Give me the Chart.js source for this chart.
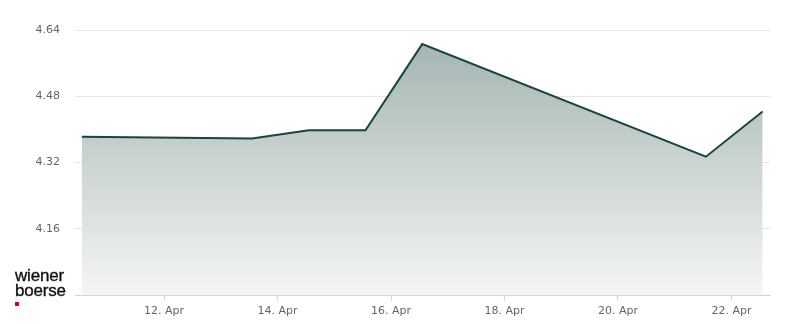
<!DOCTYPE html>
<html lang="de">
<head>
<meta charset="UTF-8">
<title>Kursverlauf</title>
<script src="https://cdn.jsdelivr.net/npm/chart.js"></script>
<style>
    html, body { margin: 0; padding: 0; background: #fff; }
    .wrap { position: relative; width: 800px; height: 324px; }
    .logo {
        position: absolute; left: 15px; top: 268px;
        font-family: 'Liberation Sans', Arial, sans-serif;
        font-size: 17px; line-height: 15px; color: #111; letter-spacing: -0.2px;
        -webkit-text-stroke: 0.35px #111;
    }
    .logo .dot { display: block; width: 4px; height: 4px; background: #d2001e; margin-top: 4px; }
</style>
</head>
<body>
<div class="wrap">
    <canvas id="priceChart" width="800" height="324"></canvas>
    <div class="logo">wiener<br>boerse<span class="dot"></span></div>
</div>
<script>
// April days (fractional, position of the daily close)
const dayPos = [10.55, 13.55, 14.55, 15.55, 16.55, 21.55, 22.55];
const closePrices = [4.382, 4.378, 4.398, 4.398, 4.606, 4.334, 4.443];
const xTickDays = [12, 14, 16, 18, 20, 22];
const yTickValues = [4.16, 4.32, 4.48, 4.64];

const points = dayPos.map((d, i) => ({ x: d, y: closePrices[i] }));

const tickFont = { family: 'DejaVu Sans', size: 11 };

new Chart(document.getElementById('priceChart'), {
    type: 'line',
    data: {
        datasets: [{
            data: points,
            borderColor: '#17453f',
            borderWidth: 2,
            pointRadius: 0,
            tension: 0,
            fill: 'start',
            backgroundColor: function(ctx) {
                const area = ctx.chart.chartArea;
                if (!area) return 'rgba(160,178,175,0.5)';
                const g = ctx.chart.ctx.createLinearGradient(0, area.top, 0, area.bottom);
                g.addColorStop(0, 'rgb(160,178,175)');
                g.addColorStop(1, 'rgb(245,246,246)');
                return g;
            }
        }]
    },
    options: {
        responsive: false,
        animation: false,
        layout: { padding: { top: 30, right: 30, left: 0, bottom: 0 } },
        plugins: { legend: { display: false }, tooltip: { enabled: false } },
        scales: {
            x: {
                type: 'linear',
                min: 10.43,
                max: 22.68,
                afterBuildTicks: axis => { axis.ticks = xTickDays.map(v => ({ value: v })); },
                afterFit: axis => { axis.height = 29; },
                border: { color: '#ccd6eb', width: 1 },
                grid: { drawOnChartArea: false, drawTicks: true, tickLength: 6, color: '#ccd6eb' },
                ticks: {
                    font: tickFont, color: '#666', padding: 4, maxRotation: 0,
                    callback: v => v + '. Apr'
                }
            },
            y: {
                min: 4.00,
                max: 4.64,
                afterBuildTicks: axis => { axis.ticks = yTickValues.map(v => ({ value: v })); },
                afterFit: axis => { axis.width = 75; },
                border: { display: false },
                grid: { color: '#e6e6e6', drawTicks: false },
                ticks: {
                    font: tickFont, color: '#666', padding: 15,
                    callback: v => v.toFixed(2)
                }
            }
        }
    }
});
</script>
</body>
</html>
